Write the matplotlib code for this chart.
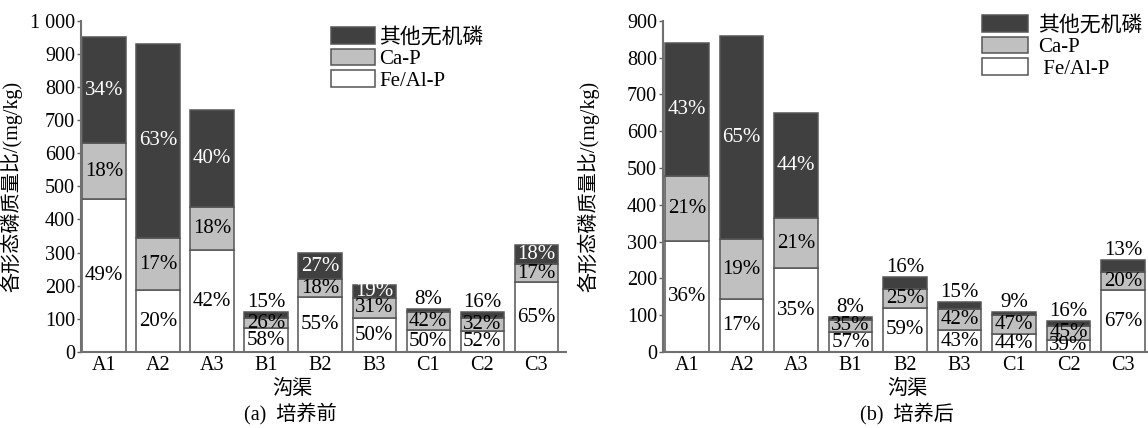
import matplotlib.pyplot as plt
import numpy as np
from matplotlib.ticker import FixedLocator, FixedFormatter

plt.rcParams['font.family'] = ['Liberation Serif', 'Noto Sans CJK SC']

ditches = ['A1', 'A2', 'A3', 'B1', 'B2', 'B3', 'C1', 'C2', 'C3']
series = ['Fe/Al-P', 'Ca-P', '其他无机磷']
legend_names = ['其他无机磷', 'Ca-P', ' Fe/Al-P']

# total inorganic P per ditch (mg/kg)
total_before = [950, 930, 730, 122, 300, 203, 130, 122, 324]
total_after = [840, 858, 650, 95, 203, 137, 110, 85, 250]

# share of each form (%), order: Fe/Al-P, Ca-P, other
feal_before = [49, 20, 42, 58, 55, 50, 50, 52, 65]
cap_before = [18, 17, 18, 26, 18, 31, 42, 32, 17]
other_before = [34, 63, 40, 15, 27, 19, 8, 16, 18]

feal_after = [36, 17, 35, 57, 59, 43, 44, 39, 67]
cap_after = [21, 19, 21, 35, 25, 42, 47, 45, 20]
other_after = [43, 65, 44, 8, 16, 15, 9, 16, 13]

colors = ['white', '#c0c0c0', '#404040']
text_colors = ['black', 'black', 'white']

W, H = 1148, 428
fig = plt.figure(figsize=(W / 100, H / 100), dpi=100)
ax_a = fig.add_axes([80.7 / W, 1 - 352 / H, (566 - 80.7) / W, (352 - 20.7) / H])
ax_b = fig.add_axes([662.7 / W, 1 - 352 / H, (1148 - 662.7) / W, (352 - 20.7) / H])


def draw_panel(ax, totals, pcts, ymax, ytick_labels, xlim):
    x = np.arange(len(ditches))
    totals = np.array(totals, dtype=float)
    pcts = np.array(pcts, dtype=float)
    parts = totals * pcts / pcts.sum(axis=0)
    bottom = np.zeros(len(ditches))
    handles = []
    for k in range(3):
        h = ax.bar(x, parts[k], 0.8, bottom=bottom, color=colors[k],
                   edgecolor='#555555', linewidth=1.1, label=series[k], zorder=2)
        handles.append(h)
        for i in range(len(ditches)):
            lab = '%d%%' % pcts[k][i]
            if k == 2 and parts[k][i] < 35:
                # thin top segment: label sits above the bar
                ax.annotate(lab, (x[i], totals[i]), xytext=(0, 0),
                            textcoords='offset points', ha='center', va='bottom',
                            fontsize=15, color='black', zorder=3)
            else:
                ax.text(x[i], bottom[i] + parts[k][i] / 2, lab, ha='center',
                        va='center', fontsize=15, color=text_colors[k], zorder=3)
        bottom = bottom + parts[k]

    ax.set_xlim(*xlim)
    ax.set_ylim(0, ymax)
    ax.set_xticks(x)
    ax.set_xticklabels(ditches, fontsize=14.5)
    ticks = np.arange(0, ymax + 1, 100)
    ax.yaxis.set_major_locator(FixedLocator(ticks))
    ax.yaxis.set_major_formatter(FixedFormatter(ytick_labels))
    ax.tick_params(axis='y', labelsize=14.5, length=3, width=1, color='#606060', pad=1)
    ax.tick_params(axis='x', length=0, pad=3)
    for s in ['top', 'right']:
        ax.spines[s].set_visible(False)
    for s in ['left', 'bottom']:
        ax.spines[s].set_color('#707070')
        ax.spines[s].set_linewidth(1.5)
    ax.set_ylabel('各形态磷质量比/(mg/kg)', fontsize=14.5, labelpad=2)
    return handles


labels_a = [str(v) for v in range(0, 901, 100)] + ['1 000']
labels_b = [str(v) for v in range(0, 901, 100)]

h_a = draw_panel(ax_a, total_before, [feal_before, cap_before, other_before],
                 1000, labels_a, (-0.43, 8.55))
h_b = draw_panel(ax_b, total_after, [feal_after, cap_after, other_after],
                 900, labels_b, (-0.45, 8.46))

ax_a.yaxis.set_label_coords(-0.12, 0.5)
ax_b.yaxis.set_label_coords(-0.13, 0.5)

fig.legend(h_a[::-1], legend_names[:1] + ['Ca-P', 'Fe/Al-P'], loc='upper left',
           bbox_to_anchor=(331 / W, 1 - 27 / H), frameon=False, fontsize=15,
           handlelength=2.1, handleheight=0.85, handletextpad=0.2,
           labelspacing=0.05, borderpad=0, borderaxespad=0)
fig.legend(h_b[::-1], legend_names, loc='upper left',
           bbox_to_anchor=(982 / W, 1 - 15 / H), frameon=False, fontsize=15,
           handlelength=2.2, handleheight=0.85, handletextpad=0.5,
           labelspacing=0.05, borderpad=0, borderaxespad=0)

fig.text(292 / W, 1 - 389 / H, '沟渠', ha='center', va='center', fontsize=14.5)
fig.text(907 / W, 1 - 389 / H, '沟渠', ha='center', va='center', fontsize=14.5)
fig.text(290 / W, 1 - 414 / H, '(a)  培养前', ha='center', va='center', fontsize=14.5)
fig.text(907 / W, 1 - 414 / H, '(b)  培养后', ha='center', va='center', fontsize=14.5)

fig.savefig('out.png', dpi=100)
